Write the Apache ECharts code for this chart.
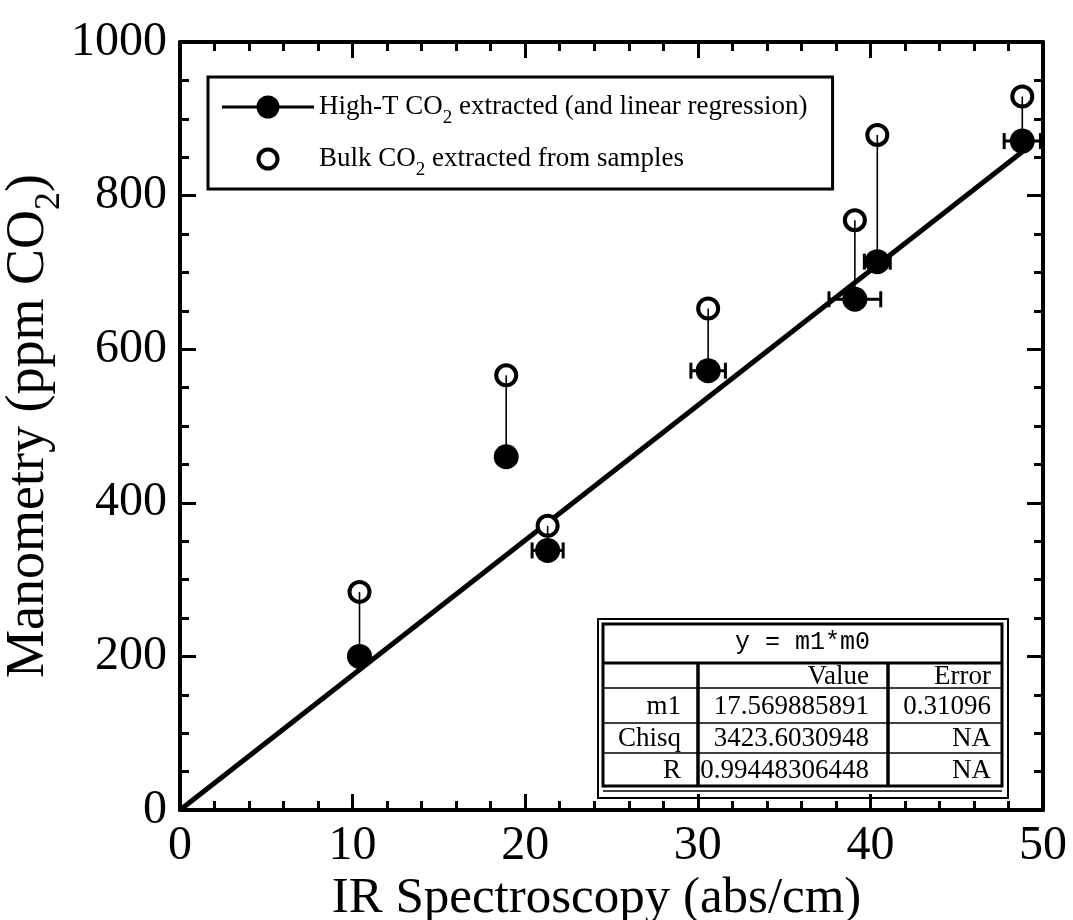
<!DOCTYPE html>
<html>
<head>
<meta charset="utf-8">
<title>Manometry vs IR Spectroscopy</title>
<script src="https://cdn.jsdelivr.net/npm/echarts@6/dist/echarts.min.js"></script>
<style>
  html, body { margin: 0; padding: 0; background: #fff; }
  #main { width: 1073px; height: 920px; }
</style>
</head>
<body>
<div id="main"></div>
<script>
// data
const irX = [10.4, 18.9, 21.3, 30.6, 39.1, 40.4, 48.8];
const highT = [200, 460, 338, 572, 665, 714, 871];
const bulk = [284, 566, 370, 653, 768, 879, 929];
const irErr = [0, 0, 0.9, 1.0, 1.5, 0.75, 1.05];
const fitX = [0, 48.8];
const fitY = [0, 857];

const fitTitle = 'y = m1*m0';
const fitHeader = ['', 'Value', 'Error'];
const fitRows = [
  ['m1', '17.569885891', '0.31096'],
  ['Chisq', '3423.6030948', 'NA'],
  ['R', '0.99448306448', 'NA'],
];

const nameHigh = 'High-T CO2 extracted (and linear regression)';
const nameBulk = 'Bulk CO2 extracted from samples';

const serif = '"Liberation Serif", "Times New Roman", serif';
const mono = '"Liberation Mono", "Courier New", monospace';

const chart = echarts.init(document.getElementById('main'));

const highPts = irX.map((x, i) => [x, highT[i]]);
const bulkPts = irX.map((x, i) => [x, bulk[i]]);
const barPts = irX.map((x, i) => [x, highT[i], bulk[i], irErr[i]]);
const fitPts = fitX.map((x, i) => [x, fitY[i]]);

// fit table, drawn with graphic elements
function buildTable() {
  const W = 410, H = 179;
  const colX = [5, 100, 290, 404];
  const rowY = [44, 69, 104, 134, 167];
  const pad = [17, 19, 11];
  const kids = [
    { type: 'rect', shape: { x: 0, y: 0, width: W, height: H }, style: { fill: '#fff', stroke: '#000', lineWidth: 2 } },
    { type: 'rect', shape: { x: 5, y: 5, width: colX[3] - 5, height: rowY[4] - 5 }, style: { fill: 'none', stroke: '#000', lineWidth: 3 } },
    { type: 'line', shape: { x1: 5, y1: rowY[0], x2: colX[3], y2: rowY[0] }, style: { stroke: '#000', lineWidth: 3 } },
    { type: 'text', x: (5 + colX[3]) / 2, y: 23, style: { text: fitTitle, font: '25px ' + mono, fill: '#000', align: 'center', verticalAlign: 'middle' } },
  ];
  for (let r = 1; r < 4; r++) {
    kids.push({ type: 'line', shape: { x1: 5, y1: rowY[r], x2: colX[3], y2: rowY[r] }, style: { stroke: '#000', lineWidth: 1.5 } });
  }
  kids.push({ type: 'line', shape: { x1: 5, y1: rowY[4] + 5, x2: colX[3], y2: rowY[4] + 5 }, style: { stroke: '#000', lineWidth: 1.5 } });
  [colX[1], colX[2]].forEach((cx) => {
    kids.push({ type: 'line', shape: { x1: cx, y1: rowY[0], x2: cx, y2: rowY[4] }, style: { stroke: '#000', lineWidth: 3.5 } });
  });
  const rows = [fitHeader].concat(fitRows);
  rows.forEach((row, r) => {
    const cy = (rowY[r] + rowY[r + 1]) / 2 + 1;
    row.forEach((txt, c) => {
      kids.push({ type: 'text', x: colX[c + 1] - pad[c], y: cy, style: { text: txt, font: '27px ' + serif, fill: '#000', align: 'right', verticalAlign: 'middle' } });
    });
  });
  return { type: 'group', left: 597, top: 618, children: kids };
}

const axisCommon = {
  min: 0,
  axisLine: { onZero: false, lineStyle: { color: '#000', width: 4 } },
  axisTick: { inside: true, length: 16, lineStyle: { color: '#000', width: 3 } },
  minorTick: { show: true, length: 9, lineStyle: { color: '#000', width: 3 } },
  splitLine: { show: false },
  minorSplitLine: { show: false },
};

const option = {
  animation: false,
  backgroundColor: '#fff',
  textStyle: { fontFamily: serif },
  grid: { left: 180, right: 30, top: 42, bottom: 110, outerBoundsMode: 'none', containLabel: false },
  legend: {
    orient: 'vertical',
    left: 208,
    top: 77,
    padding: [16, 25, 9, 14],
    itemWidth: 92,
    itemHeight: 23,
    itemGap: 17,
    symbolKeepAspect: true,
    borderColor: '#000',
    borderWidth: 3,
    selectedMode: false,
    data: [
      {
        name: nameHigh,
        icon: 'path://M0,10H92V13H0Z M34.5,11.5A11.5,11.5 0 1,1 57.5,11.5A11.5,11.5 0 1,1 34.5,11.5Z',
        itemStyle: { color: '#000', borderWidth: 0 },
      },
      {
        name: nameBulk,
        icon: 'path://M0,11.5A11.5,11.5 0 1,1 23,11.5A11.5,11.5 0 1,1 0,11.5Z M4,11.5A7.5,7.5 0 1,0 19,11.5A7.5,7.5 0 1,0 4,11.5Z',
        itemStyle: { color: '#000', borderWidth: 0 },
      },
    ],
    formatter: (name) => name.replace('CO2', 'CO{s|2}'),
    textStyle: {
      fontFamily: serif,
      fontSize: 27,
      lineHeight: 28,
      color: '#000',
      rich: { s: { fontFamily: serif, fontSize: 19, lineHeight: 28, verticalAlign: 'bottom', padding: [0, 0, -7, 0] } },
    },
  },
  xAxis: [
    Object.assign({}, axisCommon, {
      type: 'value',
      max: 50,
      interval: 10,
      minorTick: Object.assign({}, axisCommon.minorTick, { splitNumber: 5 }),
      axisLabel: { color: '#000', fontFamily: serif, fontSize: 48, margin: 12, formatter: (v) => String(v) },
      name: 'IR Spectroscopy (abs/cm)',
      nameLocation: 'middle',
      nameMoveOverlap: false,
      nameGap: 63,
      nameTextStyle: { color: '#000', fontFamily: serif, fontSize: 51, padding: [0, 30, 0, 0] },
    }),
    Object.assign({}, axisCommon, {
      type: 'value',
      position: 'top',
      max: 50,
      interval: 10,
      minorTick: Object.assign({}, axisCommon.minorTick, { splitNumber: 5 }),
      axisLabel: { show: false },
    }),
  ],
  yAxis: [
    Object.assign({}, axisCommon, {
      type: 'value',
      max: 1000,
      interval: 200,
      minorTick: Object.assign({}, axisCommon.minorTick, { splitNumber: 4 }),
      axisLabel: { color: '#000', fontFamily: serif, fontSize: 48, margin: 13, formatter: (v) => String(v) },
      name: 'Manometry (ppm CO{s|2})',
      nameLocation: 'middle',
      nameMoveOverlap: false,
      nameRotate: 90,
      nameGap: 124,
      nameTextStyle: {
        color: '#000', fontFamily: serif, fontSize: 54,
        rich: { s: { fontFamily: serif, fontSize: 36, verticalAlign: 'bottom', padding: [0, 0, -12, 0] } },
      },
    }),
    Object.assign({}, axisCommon, {
      type: 'value',
      position: 'right',
      max: 1000,
      interval: 200,
      minorTick: Object.assign({}, axisCommon.minorTick, { splitNumber: 4 }),
      axisLabel: { show: false },
    }),
  ],
  series: [
    {
      name: nameHigh,
      type: 'line',
      data: fitPts,
      showSymbol: false,
      symbol: 'circle',
      lineStyle: { color: '#000', width: 5 },
      itemStyle: { color: '#000' },
      silent: true,
      z: 2,
    },
    {
      name: nameBulk,
      type: 'scatter',
      data: bulkPts,
      symbol: 'circle',
      symbolSize: 20,
      itemStyle: { color: '#fff', borderColor: '#000', borderWidth: 4, opacity: 1 },
      silent: true,
      z: 3,
    },
    {
      name: 'links',
      type: 'custom',
      data: barPts,
      silent: true,
      z: 4,
      renderItem: function (params, api) {
        const x = api.value(0);
        const yH = api.value(1);
        const yB = api.value(2);
        const e = api.value(3);
        const pH = api.coord([x, yH]);
        const pB = api.coord([x, yB]);
        const kids = [
          { type: 'line', shape: { x1: pB[0], y1: pB[1], x2: pH[0], y2: pH[1] }, style: { stroke: '#000', lineWidth: 1.6 } },
        ];
        if (e > 0) {
          const l = api.coord([x - e, yH]);
          const r = api.coord([x + e, yH]);
          kids.push({ type: 'line', shape: { x1: l[0], y1: l[1], x2: r[0], y2: r[1] }, style: { stroke: '#000', lineWidth: 3 } });
          kids.push({ type: 'line', shape: { x1: l[0], y1: l[1] - 8, x2: l[0], y2: l[1] + 8 }, style: { stroke: '#000', lineWidth: 3 } });
          kids.push({ type: 'line', shape: { x1: r[0], y1: r[1] - 8, x2: r[0], y2: r[1] + 8 }, style: { stroke: '#000', lineWidth: 3 } });
        }
        return { type: 'group', children: kids };
      },
    },
    {
      name: nameHigh,
      type: 'scatter',
      data: highPts,
      symbol: 'circle',
      symbolSize: 25,
      itemStyle: { color: '#000', opacity: 1 },
      silent: true,
      z: 5,
    },
  ],
  graphic: [buildTable()],
};

chart.setOption(option);
</script>
</body>
</html>
